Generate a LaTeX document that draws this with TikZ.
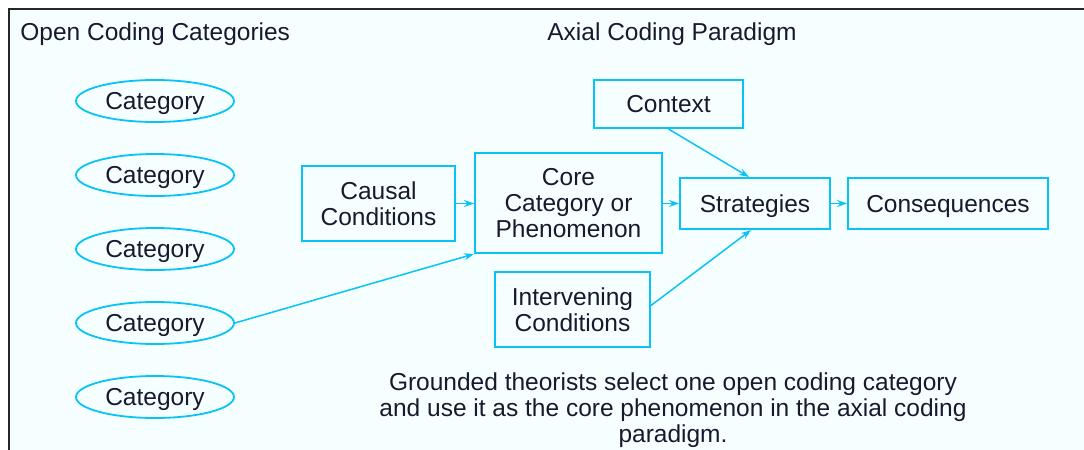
\documentclass[tikz,border=0pt]{standalone}
\usepackage{fontspec}
\setmainfont{Liberation Sans}
\usetikzlibrary{arrows.meta,shapes.geometric}
\definecolor{cyanline}{RGB}{10,195,245}
\definecolor{bgcyan}{RGB}{245,255,255}
\definecolor{txt}{RGB}{25,25,45}
\begin{document}
\begin{tikzpicture}[x=0.5pt,y=-0.5pt,
  every node/.style={font=\fontsize{12.25}{13}\selectfont, text=txt, align=center, inner sep=0pt},
  oneline/.style={text depth=0pt},
  catnode/.style={ellipse, draw=cyanline, line width=0.9pt, minimum width=79pt, minimum height=21pt, oneline},
  boxnode/.style={rectangle, draw=cyanline, line width=1pt},
  conn/.style={draw=cyanline, line width=0.75pt, -{Stealth[length=5pt,width=3.5pt]}}
]
\useasboundingbox (0,0) rectangle (1084,450);
\fill[white] (0,0) rectangle (1084,450);
\fill[bgcyan] (9,9) rectangle (1084,450);
\draw[line width=1.3pt, black!85] (9,450) -- (9,9) -- (1084,9);

\node[anchor=west, oneline] (t1) at (20,32) {Open Coding Categories};
\node[oneline] (t2) at (672,32) {Axial Coding Paradigm};

\node[catnode] (c1) at (155,101) {Category};
\node[catnode] (c2) at (155,175) {Category};
\node[catnode] (c3) at (155,249) {Category};
\node[catnode] (c4) at (155,323) {Category};
\node[catnode] (c5) at (155,397) {Category};

\node[boxnode, oneline, minimum width=74.5pt, minimum height=24pt] (ctx) at (668.5,104) {Context};
\node[boxnode, minimum width=76.5pt, minimum height=37.5pt] (cau) at (378.5,203.5) {Causal\\Conditions};
\node[boxnode, minimum width=93.5pt, minimum height=50pt] (core) at (568.5,203) {Core\\Category or\\Phenomenon};
\node[boxnode, oneline, minimum width=75pt, minimum height=25.5pt] (str) at (755,203.5) {Strategies};
\node[boxnode, oneline, minimum width=100pt, minimum height=25.5pt] (con) at (948,203.5) {Consequences};
\node[boxnode, minimum width=77.5pt, minimum height=37.5pt] (int) at (572.5,309.5) {Intervening\\Conditions};

\draw[conn] (cau.east) -- (core.west |- cau.east);
\draw[conn] (core.east |- str.west) -- (str.west);
\draw[conn] (str.east) -- (con.west);
\draw[conn] (ctx.south) -- ([xshift=-3pt]str.north);
\draw[conn] ([yshift=2pt]int.east) -- ([xshift=-2pt]str.south);
\draw[conn] (c4.east) -- (core.south west);

\node (note) at (673,410) {Grounded theorists select one open coding category\\and use it as the core phenomenon in the axial coding\\paradigm.};
\end{tikzpicture}
\end{document}
